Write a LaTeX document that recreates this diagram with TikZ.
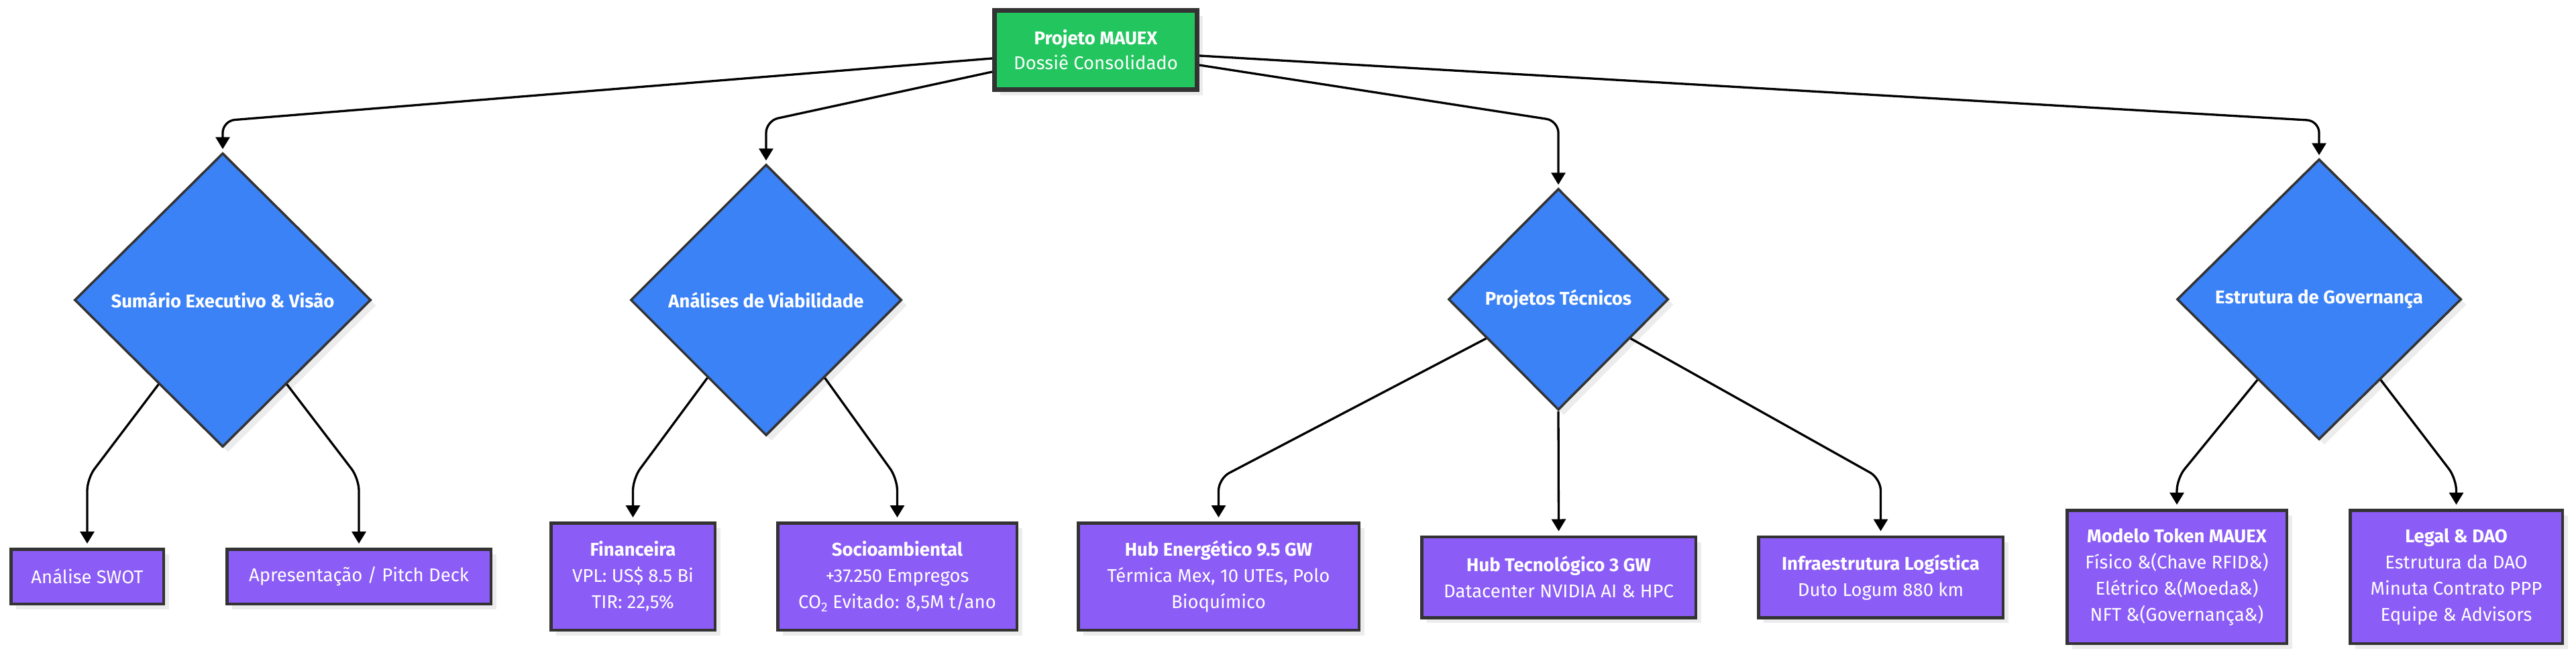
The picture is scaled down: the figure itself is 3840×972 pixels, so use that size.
\documentclass[tikz,border=0pt]{standalone}
\usepackage{fontspec}
\setmainfont{Fira Sans}
\usetikzlibrary{shapes.geometric,arrows.meta,shadows,calc}
\definecolor{rootgreen}{HTML}{22C55E}
\definecolor{dgblue}{HTML}{3B82F6}
\definecolor{leafpurple}{HTML}{8B5CF6}
\definecolor{bord}{HTML}{333333}
\definecolor{shade}{HTML}{ECECEC}
\begin{document}
\begin{tikzpicture}[x=1pt,y=-1pt,
  every node/.style={font=\fontsize{27.5}{39}\selectfont, text=white, align=center, inner sep=0pt},
  sh/.style={drop shadow={shadow xshift=8pt,shadow yshift=-8pt,fill=shade,opacity=1}},
  rootbox/.style={rectangle, fill=rootgreen, draw=bord, line width=7pt, sh, font=\fontsize{27.5}{37}\selectfont},
  dec/.style={diamond, aspect=1, fill=dgblue, draw=bord, line width=3.5pt, sh, font=\fontsize{27.5}{30}\selectfont\bfseries},
  leaf/.style={rectangle, fill=leafpurple, draw=bord, line width=4.5pt, sh},
  edge/.style={draw=black, line width=3.3pt, rounded corners=18pt, -{Triangle[length=18pt,width=21pt]}},
]
\useasboundingbox (0,0) rectangle (3840,972);
\coordinate (topbend) at (0,180);
\coordinate (botbend) at (0,713);

\node[rootbox, minimum width=302pt, minimum height=118pt] (root) at (1633.5,74.5) {\textbf{Projeto MAUEX}\\Dossiê Consolidado};

\node[dec, minimum width=442pt, minimum height=438pt] (d1) at (332,447) {Sumário Executivo \& Visão};
\node[dec, minimum width=404pt, minimum height=404pt] (d2) at (1142,447) {Análises de Viabilidade};
\node[dec, minimum width=328pt, minimum height=330pt] (d3) at (2323,446) {Projetos Técnicos};
\node[dec, minimum width=424pt, minimum height=418pt] (d4) at (3457,446) {Estrutura de Governança};

\node[leaf, minimum width=227.5pt, minimum height=81.5pt] (swot) at (130,859) {Análise SWOT};
\node[leaf, minimum width=393.5pt, minimum height=81.5pt] (apres) at (535,859) {Apresentação / Pitch Deck};
\node[leaf, minimum width=244.5pt, minimum height=159.5pt] (fin) at (943.5,859) {\textbf{Financeira}\\VPL: US\$ 8.5 Bi\\TIR: 22,5\%};
\node[leaf, minimum width=356.5pt, minimum height=159.5pt] (socio) at (1337.5,859) {\textbf{Socioambiental}\\+37.250 Empregos\\CO\textsubscript{2} Evitado: 8,5M t/ano};
\node[leaf, minimum width=418.5pt, minimum height=159.5pt] (hube) at (1816.5,859) {\textbf{Hub Energético 9.5 GW}\\Térmica Mex, 10 UTEs, Polo\\Bioquímico};
\node[leaf, minimum width=408.5pt, minimum height=120.5pt] (hubt) at (2323.5,860) {\textbf{Hub Tecnológico 3 GW}\\Datacenter NVIDIA AI \& HPC};
\node[leaf, minimum width=364.5pt, minimum height=120.5pt] (infra) at (2803.5,860) {\textbf{Infraestrutura Logística}\\Duto Logum 880 km};
\node[leaf, minimum width=327.5pt, minimum height=198.5pt] (token) at (3245,859.5) {\textbf{Modelo Token MAUEX}\\Físico \&(Chave RFID\&)\\Elétrico \&(Moeda\&)\\NFT \&(Governança\&)};
\node[leaf, minimum width=316.5pt, minimum height=198.5pt] (legal) at (3661.5,859.5) {\textbf{Legal \& DAO}\\Estrutura da DAO\\Minuta Contrato PPP\\Equipe \& Advisors};

\draw[edge, shorten >=4pt] ($(root.west)+(0,12.5)$) -- (d1.north |- topbend) -- (d1.north);
\draw[edge, shorten >=4pt] ($(root.west)+(0,32.5)$) -- (d2.north |- topbend) -- (d2.north);
\draw[edge, shorten >=4pt] ($(root.east)+(0,22.5)$) -- (d3.north |- topbend) -- (d3.north);
\draw[edge, shorten >=4pt] ($(root.east)+(0,8.5)$) -- (d4.north |- topbend) -- (d4.north);

\draw[edge, shorten >=6pt] ($(d1.west)!0.57!(d1.south)$) -- (swot.north |- botbend) -- (swot.north);
\draw[edge, shorten >=6pt] ($(d1.east)!0.57!(d1.south)$) -- (apres.north |- botbend) -- (apres.north);
\draw[edge, shorten >=6pt] ($(d2.west)!0.57!(d2.south)$) -- (fin.north |- botbend) -- (fin.north);
\draw[edge, shorten >=6pt] ($(d2.east)!0.57!(d2.south)$) -- (socio.north |- botbend) -- (socio.north);
\draw[edge, shorten >=6pt] ($(d3.west)!0.35!(d3.south)$) -- (hube.north |- botbend) -- (hube.north);
\draw[edge, shorten >=6pt] (d3.south) -- (hubt.north);
\draw[edge, shorten >=6pt] ($(d3.east)!0.35!(d3.south)$) -- (infra.north |- botbend) -- (infra.north);
\draw[edge, shorten >=6pt] ($(d4.west)!0.57!(d4.south)$) -- (token.north |- botbend) -- (token.north);
\draw[edge, shorten >=6pt] ($(d4.east)!0.57!(d4.south)$) -- (legal.north |- botbend) -- (legal.north);
\end{tikzpicture}
\end{document}
